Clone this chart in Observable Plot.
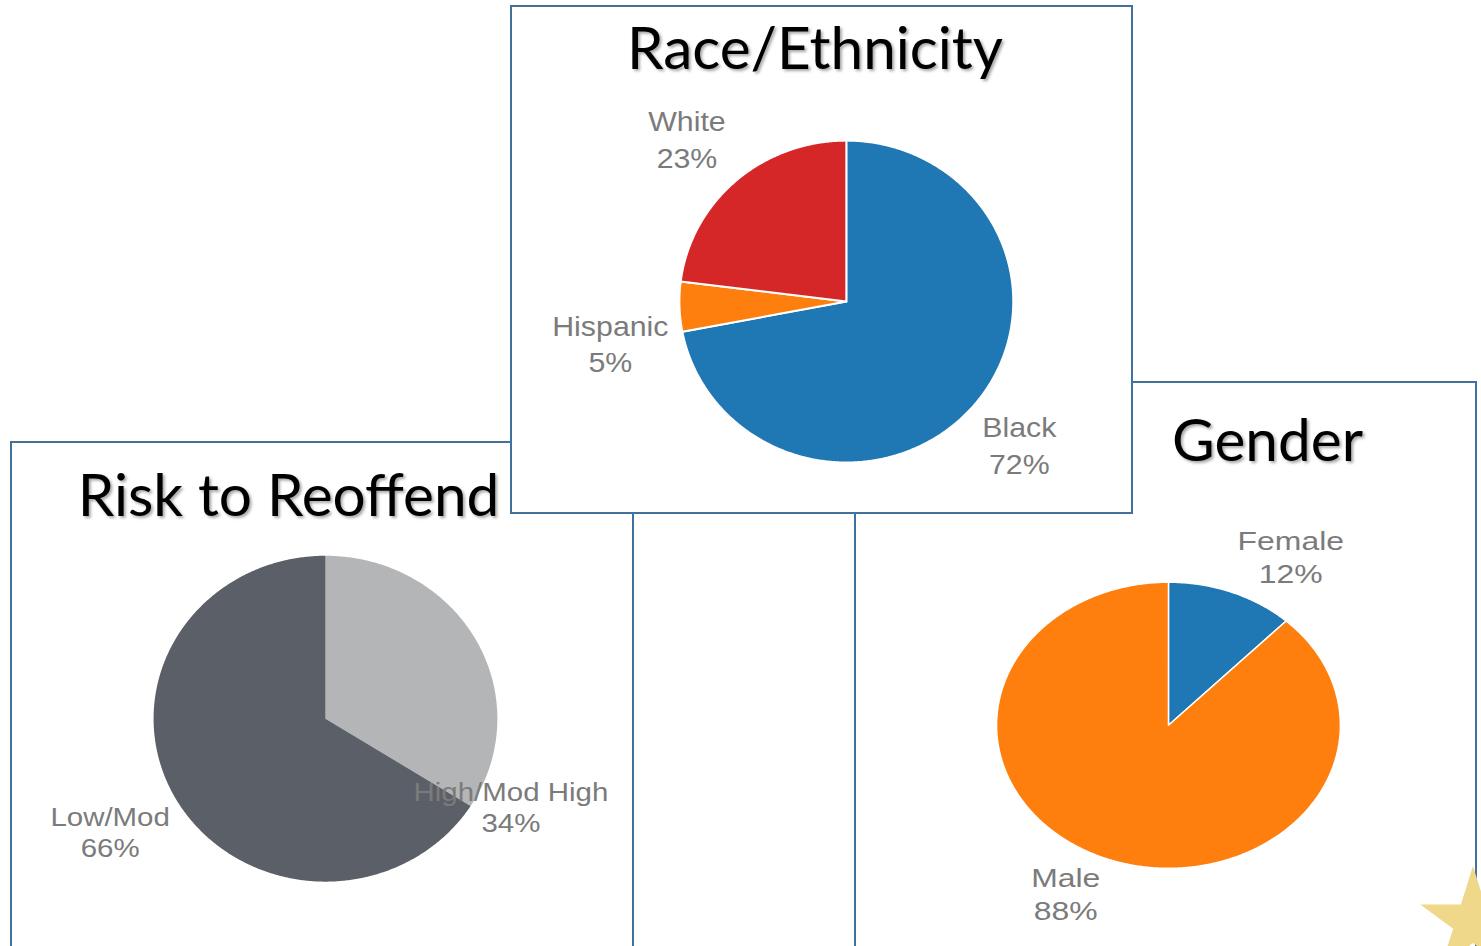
<!DOCTYPE html>
<html><head><meta charset="utf-8">
<script src="https://cdn.jsdelivr.net/npm/d3@7"></script>
<script src="https://cdn.jsdelivr.net/npm/@observablehq/plot@0.6"></script>
<style>
html,body{margin:0;padding:0;background:#fff;width:1481px;height:946px;overflow:hidden;position:relative;}
.panel{position:absolute;background:#fff;border:2px solid #41719c;box-sizing:border-box;overflow:visible;}
.panel svg{position:absolute;left:-2px;top:-2px;overflow:visible;background:transparent;}
.title{position:absolute;font-family:Lato,"Open Sans",sans-serif;font-size:58.5px;color:#000;text-shadow:2px 2px 3px rgba(0,0,0,0.35);white-space:nowrap;transform:translateX(-50%);line-height:1;z-index:2;}
.badge{position:absolute;left:1418px;top:866px;width:110px;height:110px;background:#efd889;z-index:5;
  clip-path:polygon(50% 0%,61% 35%,98% 35%,68% 57%,79% 91%,50% 70%,21% 91%,32% 57%,2% 35%,39% 35%);}
</style></head><body>
<div class="badge"></div>
<script>
// ---- data ----
const riskCategories = ["High/Mod High", "Low/Mod"];
const riskValues = [34, 66];
const riskColors = ["#b3b5b7", "#5b5f67"];

const raceCategories = ["Black", "Hispanic", "White"];
const raceValues = [72, 5, 23];
const raceColors = ["#1f77b4", "#ff7f0e", "#d62728"];

const genderCategories = ["Female", "Male"];
const genderValues = [12, 88];
const genderColors = ["#1f77b4", "#ff7f0e"];

// ---- layout (label anchor: [fraction along slice, radius factor]) ----
const panels = [
  {title: "Risk to Reoffend", cats: riskCategories, vals: riskValues, colors: riskColors,
   left: 10, top: 441, width: 624, height: 600, titleX: 278.5, titleTop: 23,
   cx: 317, cy: 279, rx: 173, ry: 164, sep: "none", sepW: 0,
   labelAnchor: [[0.953, 1.207], [0.499, 1.433]], fontSize: 26, lineHeight: 1.2, stretch: 1.14},
  {title: "Gender", cats: genderCategories, vals: genderValues, colors: genderColors,
   left: 854, top: 381, width: 623, height: 600, titleX: 413.5, titleTop: 28,
   cx: 316, cy: 346, rx: 173, ry: 144, sep: "white", sepW: 1.5,
   labelAnchor: [[0.718, 1.381], [0.517, 1.317]], fontSize: 25.5, lineHeight: 1.3, stretch: 1.26},
  {title: "Race/Ethnicity", cats: raceCategories, vals: raceValues, colors: raceColors,
   left: 510, top: 5, width: 623, height: 509, titleX: 305, titleTop: 12,
   cx: 338, cy: 298, rx: 168, ry: 162, sep: "white", sepW: 2,
   labelAnchor: [[0.503, 1.36], [0.037, 1.436], [0.478, 1.394]], fontSize: 27.5, lineHeight: 1.35, stretch: 1.11}
];

function piePlot(p) {
  const data = p.cats.map((name, i) => ({name, value: p.vals[i]}));
  const arcs = d3.pie().sort(null).value(d => d.value)(data);
  const pts = [];
  arcs.forEach(a => {
    const n = Math.max(2, Math.ceil((a.endAngle - a.startAngle) / (Math.PI / 360)));
    pts.push({name: a.data.name, x: 0, y: 0});
    for (let i = 0; i <= n; i++) {
      const t = a.startAngle + (a.endAngle - a.startAngle) * i / n;
      pts.push({name: a.data.name, x: Math.sin(t), y: Math.cos(t)});
    }
    pts.push({name: a.data.name, x: 0, y: 0});
  });
  const labels = arcs.map((a, i) => {
    const [f, k] = p.labelAnchor[i];
    const m = a.startAngle + (a.endAngle - a.startAngle) * f;
    return {name: a.data.name, value: a.data.value, x: k * Math.sin(m), y: k * Math.cos(m)};
  });
  const svg = Plot.plot({
    width: p.width, height: p.height, margin: 0,
    style: {background: "transparent", overflow: "visible"},
    x: {domain: [-1, 1], range: [p.cx - p.rx, p.cx + p.rx], axis: null},
    y: {domain: [-1, 1], range: [p.cy + p.ry, p.cy - p.ry], axis: null},
    color: {domain: p.cats, range: p.colors},
    marks: [
      Plot.line(pts, {x: "x", y: "y", z: "name", fill: "name", stroke: p.sep, strokeWidth: p.sepW, strokeLinejoin: "round", curve: "linear"}),
      Plot.text(labels, {x: "x", y: "y", text: d => `${d.name}\n${d.value}%`, fill: "#7b7b7b",
        fontSize: p.fontSize, lineHeight: p.lineHeight, fontFamily: "'Liberation Sans', Arial, sans-serif", textAnchor: "middle"})
    ]
  });
  // horizontal stretch of the label glyphs, as in the reference image
  svg.querySelectorAll("text").forEach(t => {
    const tr = t.getAttribute("transform") || "";
    t.setAttribute("transform", tr + ` scale(${p.stretch},1)`);
  });
  return svg;
}

panels.forEach(p => {
  const div = document.createElement("div");
  div.className = "panel";
  Object.assign(div.style, {left: p.left + "px", top: p.top + "px", width: p.width + "px", height: p.height + "px"});
  div.appendChild(piePlot(p));
  const t = document.createElement("div");
  t.className = "title";
  t.textContent = p.title;
  t.style.left = (p.titleX - 2) + "px";
  t.style.top = (p.titleTop - 2) + "px";
  div.appendChild(t);
  document.body.appendChild(div);
});
</script>
</body></html>
